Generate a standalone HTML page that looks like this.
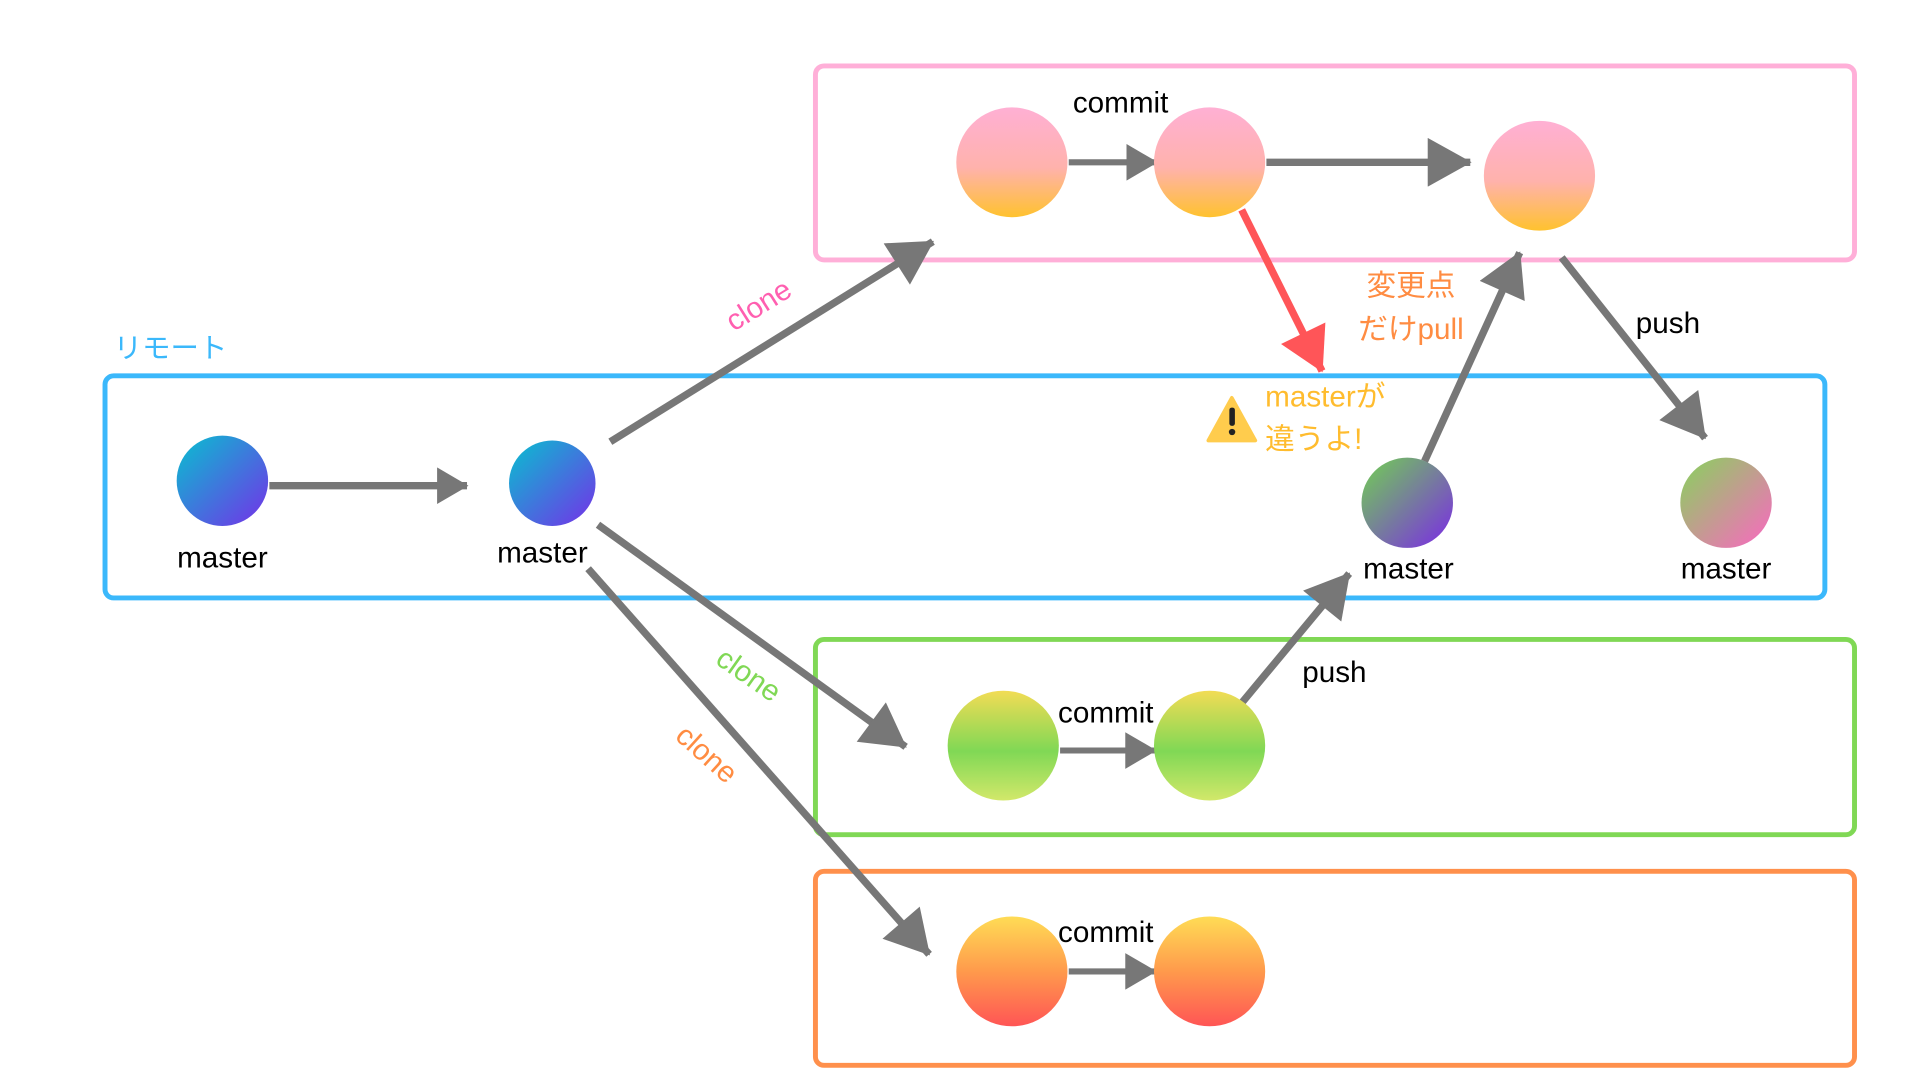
<!DOCTYPE html>
<html><head><meta charset="utf-8"><style>
html,body{margin:0;padding:0;background:#fff;}
svg{display:block;}
text{font-family:"Liberation Sans","Noto Sans CJK JP",sans-serif;}
</style></head><body>
<svg width="1920" height="1080" viewBox="0 0 1554 885" preserveAspectRatio="none" xmlns="http://www.w3.org/2000/svg">
<defs>
<marker id="hL" markerUnits="userSpaceOnUse" markerWidth="40" markerHeight="40" viewBox="0 0 32 36" refX="31" refY="18" orient="auto"><path d="M0,0 L32,18 L0,36 Z" fill="#777"/></marker>
<marker id="hM" markerUnits="userSpaceOnUse" markerWidth="30" markerHeight="30" viewBox="0 0 22 26" refX="21" refY="13" orient="auto"><path d="M0,0 L22,13 L0,26 Z" fill="#777"/></marker>
<marker id="hR" markerUnits="userSpaceOnUse" markerWidth="40" markerHeight="40" viewBox="0 0 32 36" refX="31" refY="18" orient="auto"><path d="M0,0 L32,18 L0,36 Z" fill="#ff5558"/></marker>
<linearGradient id="gPink" x1="0" y1="0" x2="0" y2="1"><stop offset="0" stop-color="#ffb0d4"/><stop offset="0.55" stop-color="#ffb2ac"/><stop offset="1" stop-color="#ffc22e"/></linearGradient>
<linearGradient id="gGreen" x1="0" y1="0" x2="0" y2="1"><stop offset="0" stop-color="#f2dc55"/><stop offset="0.55" stop-color="#80d855"/><stop offset="1" stop-color="#d2e86a"/></linearGradient>
<linearGradient id="gOrange" x1="0" y1="0" x2="0" y2="1"><stop offset="0" stop-color="#ffdc55"/><stop offset="0.5" stop-color="#ff9a4c"/><stop offset="1" stop-color="#ff5555"/></linearGradient>
<linearGradient id="gBlue" x1="0" y1="0" x2="1" y2="1"><stop offset="0.1" stop-color="#12b2d2"/><stop offset="0.9" stop-color="#6a3ee6"/></linearGradient>
<linearGradient id="gGP" x1="0" y1="0" x2="1" y2="1"><stop offset="0.1" stop-color="#72c060"/><stop offset="0.9" stop-color="#7a3ad8"/></linearGradient>
<linearGradient id="gGPk" x1="0" y1="0" x2="1" y2="1"><stop offset="0.1" stop-color="#92c866"/><stop offset="0.9" stop-color="#f072b8"/></linearGradient>
</defs>

<!-- boxes -->
<rect x="660" y="54" width="841" height="159" rx="7" fill="none" stroke="#ffafd8" stroke-width="4"/>
<rect x="85" y="308" width="1392" height="182" rx="7" fill="none" stroke="#3bb8fb" stroke-width="4"/>
<rect x="660" y="524" width="841" height="160" rx="7" fill="none" stroke="#80d855" stroke-width="4"/>
<rect x="660" y="714" width="841" height="159" rx="7" fill="none" stroke="#ff904c" stroke-width="4"/>

<text x="92" y="293" font-size="23" fill="#3bb8fb">リモート</text>

<!-- arrows -->
<g stroke="#777" stroke-width="6" fill="none">
<line x1="218" y1="398" x2="378" y2="398" marker-end="url(#hM)"/>
<line x1="494" y1="362" x2="755" y2="198" marker-end="url(#hL)"/>
<line x1="484" y1="430" x2="733" y2="612" marker-end="url(#hL)"/>
<line x1="476" y1="466" x2="752" y2="782" marker-end="url(#hL)"/>
<line x1="865" y1="133" x2="936" y2="133" stroke-width="5" marker-end="url(#hM)"/>
<line x1="1025" y1="133" x2="1190" y2="133" marker-end="url(#hL)"/>
<line x1="1153" y1="378" x2="1230" y2="207" marker-end="url(#hL)"/>
<line x1="1264" y1="211" x2="1380" y2="359" marker-end="url(#hL)"/>
<line x1="1005" y1="576" x2="1092" y2="470" marker-end="url(#hL)"/>
<line x1="858" y1="615" x2="935" y2="615" stroke-width="5" marker-end="url(#hM)"/>
<line x1="865" y1="796" x2="935" y2="796" stroke-width="5" marker-end="url(#hM)"/>
</g>
<line x1="1005" y1="172" x2="1070" y2="304" stroke="#ff5558" stroke-width="6" marker-end="url(#hR)"/>

<!-- circles -->
<ellipse cx="180" cy="394" rx="37" ry="37" fill="url(#gBlue)"/>
<ellipse cx="447" cy="396" rx="35" ry="35" fill="url(#gBlue)"/>
<circle cx="819" cy="133" r="45" fill="url(#gPink)"/>
<circle cx="979" cy="133" r="45" fill="url(#gPink)"/>
<circle cx="1246" cy="144" r="45" fill="url(#gPink)"/>
<circle cx="1139" cy="412" r="37" fill="url(#gGP)"/>
<circle cx="1397" cy="412" r="37" fill="url(#gGPk)"/>
<circle cx="812" cy="611" r="45" fill="url(#gGreen)"/>
<circle cx="979" cy="611" r="45" fill="url(#gGreen)"/>
<circle cx="819" cy="796" r="45" fill="url(#gOrange)"/>
<circle cx="979" cy="796" r="45" fill="url(#gOrange)"/>

<!-- labels -->
<g font-size="24" fill="#000" text-anchor="middle">
<text x="180" y="465">master</text>
<text x="439" y="461">master</text>
<text x="1140" y="474">master</text>
<text x="1397" y="474">master</text>
<text x="907" y="92">commit</text>
<text x="895" y="592">commit</text>
<text x="895" y="772">commit</text>
<text x="1350" y="273">push</text>
<text x="1080" y="559">push</text>
</g>
<g font-size="24" text-anchor="middle">
<text x="614" y="258" fill="#ff5fb0" transform="rotate(-32 614 250)">clone</text>
<text x="606" y="561" fill="#80d855" transform="rotate(35 606 553)">clone</text>
<text x="572" y="626" fill="#ff8c42" transform="rotate(42 572 618)">clone</text>
</g>
<g font-size="24" fill="#ff8c42" text-anchor="middle">
<text x="1142" y="242">変更点</text>
<text x="1142" y="278">だけpull</text>
</g>
<g font-size="24" fill="#ffbc2e">
<text x="1024" y="333">masterが</text>
<text x="1024" y="368">違うよ!</text>
</g>
<path d="M997,326 L1016,361 L978,361 Z" fill="#ffcc4d" stroke="#ffcc4d" stroke-width="3" stroke-linejoin="round"/>
<rect x="995" y="334" width="4.5" height="15" rx="2" fill="#222"/>
<circle cx="997.2" cy="354" r="2.6" fill="#222"/>
</svg>
</body></html>
